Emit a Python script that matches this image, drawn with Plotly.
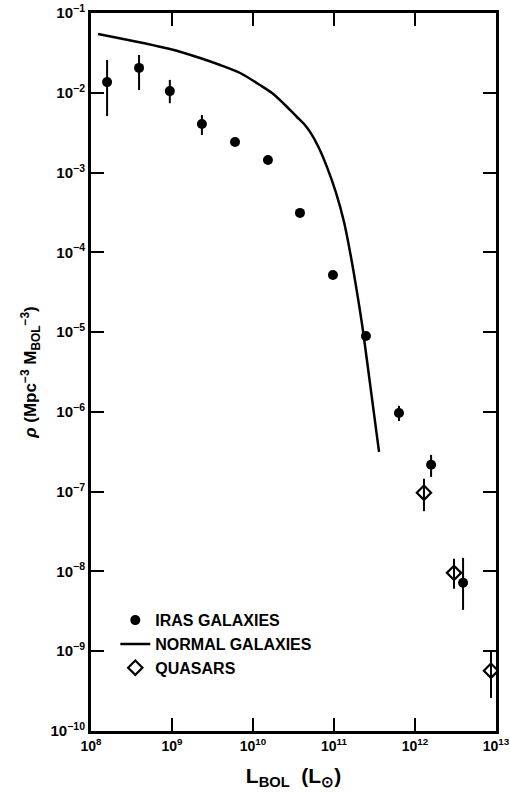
import plotly.graph_objects as go

# IRAS galaxies
iras_x = [1.58e8, 3.92e8, 9.4e8, 2.34e9, 6.0e9, 1.53e10, 3.8e10, 9.7e10, 2.48e11, 6.34e11, 1.58e12, 3.92e12]
iras_y = [1.36e-2, 2.05e-2, 1.05e-2, 4.06e-3, 2.42e-3, 1.44e-3, 3.12e-4, 5.2e-5, 8.95e-6, 9.7e-7, 2.17e-7, 7.2e-9]
iras_hi = [2.58e-2, 2.98e-2, 1.45e-2, 5.27e-3, 2.42e-3, 1.44e-3, 3.12e-4, 5.2e-5, 8.95e-6, 1.19e-6, 2.89e-7, 1.48e-8]
iras_lo = [5.1e-3, 1.08e-2, 7.4e-3, 2.96e-3, 2.42e-3, 1.44e-3, 3.12e-4, 5.2e-5, 8.95e-6, 7.7e-7, 1.53e-7, 3.3e-9]

# Quasars
qso_x = [1.29e12, 3.03e12, 8.67e12]
qso_y = [9.7e-8, 9.6e-9, 5.7e-10]
qso_hi = [1.45e-7, 1.44e-8, 1.01e-9]
qso_lo = [5.7e-8, 6.05e-9, 2.6e-10]

# Normal galaxies curve
norm_x = [1.22e8, 9.44e8, 2.22e9, 3.92e9, 6.92e9, 1.22e10, 1.72e10, 2.35e10, 3.49e10, 4.27e10,
          5.06e10, 6.34e10, 8.2e10, 1.06e11, 1.33e11, 1.62e11, 1.92e11, 2.28e11, 2.86e11, 3.6e11]
norm_y = [5.46e-2, 3.54e-2, 2.73e-2, 2.23e-2, 1.77e-2, 1.25e-2, 9.93e-3, 7.44e-3, 4.97e-3, 4.06e-3,
          3.23e-3, 2.15e-3, 1.17e-3, 5.55e-4, 2.40e-4, 8.75e-5, 3.19e-5, 1.04e-5, 1.83e-6, 3.16e-7]

x_tickvals = [1e8, 1e9, 1e10, 1e11, 1e12, 1e13]
x_ticktext = ["10<sup>8</sup>", "10<sup>9</sup>", "10<sup>10</sup>", "10<sup>11</sup>", "10<sup>12</sup>", "10<sup>13</sup>"]
y_tickvals = [1e-1, 1e-2, 1e-3, 1e-4, 1e-5, 1e-6, 1e-7, 1e-8, 1e-9, 1e-10]
y_ticktext = ["10<sup>−1</sup>", "10<sup>−2</sup>", "10<sup>−3</sup>", "10<sup>−4</sup>", "10<sup>−5</sup>",
              "10<sup>−6</sup>", "10<sup>−7</sup>", "10<sup>−8</sup>", "10<sup>−9</sup>", "10<sup>−10</sup>"]

fig = go.Figure()

fig.add_trace(go.Scatter(
    x=iras_x, y=iras_y, mode="markers", name="IRAS GALAXIES",
    marker=dict(symbol="circle", size=10, color="black"),
    error_y=dict(type="data", symmetric=False,
                 array=[h - v for h, v in zip(iras_hi, iras_y)],
                 arrayminus=[v - l for v, l in zip(iras_y, iras_lo)],
                 width=0, thickness=2, color="black"),
))

fig.add_trace(go.Scatter(
    x=norm_x, y=norm_y, mode="lines", name="NORMAL GALAXIES",
    line=dict(color="black", width=2.5, shape="spline", smoothing=0.8),
))

fig.add_trace(go.Scatter(
    x=qso_x, y=qso_y, mode="markers", name="QUASARS",
    marker=dict(symbol="diamond-open", size=11, color="black", line=dict(width=2.2)),
    error_y=dict(type="data", symmetric=False,
                 array=[h - v for h, v in zip(qso_hi, qso_y)],
                 arrayminus=[v - l for v, l in zip(qso_y, qso_lo)],
                 width=0, thickness=2, color="black"),
))

axis_common = dict(
    type="log", showline=True, linewidth=3, linecolor="black", mirror="ticks",
    ticks="inside", ticklen=13, tickwidth=2, tickcolor="black",
    showgrid=False, zeroline=False, automargin=False,
)

fig.update_layout(
    width=510, height=795,
    margin=dict(l=91, r=14, t=13, b=64),
    paper_bgcolor="white", plot_bgcolor="white",
    font=dict(family="Liberation Sans", color="black", weight="bold"),
    showlegend=True,
    legend=dict(x=0.06, y=0.178, xanchor="left", yanchor="top",
                bgcolor="rgba(0,0,0,0)", font=dict(size=16, weight="bold"),
                tracegroupgap=0, itemwidth=30),
    xaxis=dict(axis_common, range=[8, 13], tickvals=x_tickvals, ticktext=x_ticktext,
               tickfont=dict(size=14, color="black", family="Liberation Sans", weight="bold"),
               title=dict(text="L<sub>BOL</sub>  (L<sub>⊙</sub>)", font=dict(size=21, weight="bold"), standoff=16)),
    yaxis=dict(axis_common, range=[-10, -1], tickvals=y_tickvals, ticktext=y_ticktext,
               tickfont=dict(size=15, color="black", family="Liberation Sans", weight="bold"),
               title=dict(text="<i>ρ</i> (Mpc<sup>−3</sup> M<sub>BOL</sub><sup>−3</sup>)", font=dict(size=17, weight="bold"), standoff=10)),
)

fig.write_html("out.html")
